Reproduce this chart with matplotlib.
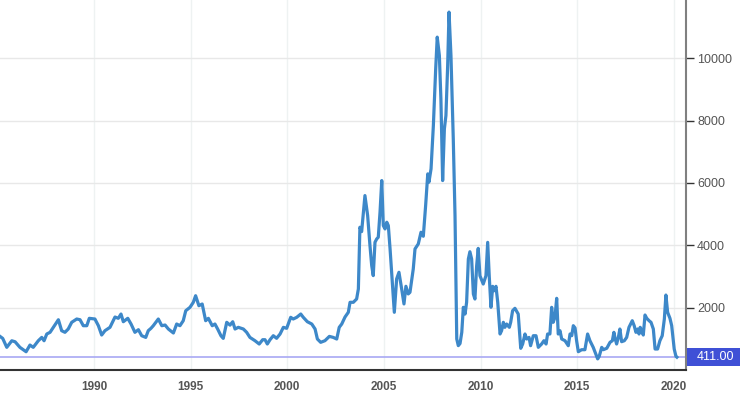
import matplotlib
matplotlib.use('Agg')
import matplotlib.pyplot as plt
from matplotlib.patches import Rectangle

# Baltic Dry Index, decimal years
years = [
    1985.14, 1985.28, 1985.49, 1985.75, 1985.92, 1986.17, 1986.49, 1986.69, 1986.86, 1987.12,
    1987.30, 1987.42, 1987.56, 1987.73, 1987.90, 1988.16, 1988.33, 1988.50, 1988.67, 1988.85,
    1989.11, 1989.28, 1989.45, 1989.63, 1989.76, 1990.05, 1990.23, 1990.40, 1990.57, 1990.83,
    1991.09, 1991.26, 1991.40, 1991.52, 1991.75, 1991.92, 1992.12, 1992.30, 1992.47, 1992.68,
    1992.81, 1992.95, 1993.07, 1993.33, 1993.51, 1993.68, 1993.85, 1994.11, 1994.28, 1994.45,
    1994.62, 1994.75, 1994.97, 1995.14, 1995.26, 1995.43, 1995.60, 1995.78, 1995.92, 1996.12,
    1996.26, 1996.40, 1996.57, 1996.69, 1996.87, 1997.04, 1997.18, 1997.30, 1997.47, 1997.73,
    1997.90, 1998.07, 1998.33, 1998.55, 1998.73, 1998.85, 1998.97, 1999.11, 1999.28, 1999.45,
    1999.63, 1999.80, 1999.97, 2000.18, 2000.31, 2000.49, 2000.70, 2000.83, 2001.04, 2001.27,
    2001.44, 2001.56, 2001.73, 2001.95, 2002.18, 2002.38, 2002.56, 2002.69, 2002.82, 2002.99,
    2003.16, 2003.25, 2003.42, 2003.59, 2003.68, 2003.76, 2003.85, 2004.02, 2004.16, 2004.28,
    2004.37, 2004.45, 2004.54, 2004.63, 2004.71, 2004.80, 2004.89, 2004.97, 2005.06, 2005.15,
    2005.23, 2005.32, 2005.40, 2005.54, 2005.66, 2005.78, 2005.92, 2006.04, 2006.14, 2006.26,
    2006.35, 2006.52, 2006.61, 2006.78, 2006.92, 2007.04, 2007.16, 2007.27, 2007.33, 2007.44,
    2007.56, 2007.68, 2007.76, 2007.87, 2007.95, 2008.04, 2008.13, 2008.21, 2008.30, 2008.37,
    2008.47, 2008.59, 2008.68, 2008.77, 2008.85, 2008.94, 2009.03, 2009.11, 2009.20, 2009.28,
    2009.37, 2009.45, 2009.54, 2009.63, 2009.71, 2009.80, 2009.88, 2009.97, 2010.14, 2010.28,
    2010.37, 2010.45, 2010.54, 2010.63, 2010.71, 2010.80, 2010.89, 2011.01, 2011.09, 2011.18,
    2011.26, 2011.35, 2011.49, 2011.56, 2011.66, 2011.78, 2011.95, 2012.08, 2012.18, 2012.30,
    2012.39, 2012.51, 2012.59, 2012.73, 2012.87, 2012.99, 2013.16, 2013.28, 2013.39, 2013.47,
    2013.59, 2013.68, 2013.76, 2013.85, 2013.94, 2014.02, 2014.11, 2014.20, 2014.37, 2014.54,
    2014.63, 2014.72, 2014.80, 2014.89, 2014.97, 2015.06, 2015.23, 2015.40, 2015.54, 2015.66,
    2015.83, 2015.96, 2016.06, 2016.14, 2016.27, 2016.35, 2016.53, 2016.70, 2016.82, 2016.90,
    2016.96, 2017.04, 2017.13, 2017.21, 2017.30, 2017.44, 2017.56, 2017.68, 2017.85, 2017.95,
    2018.04, 2018.13, 2018.20, 2018.26, 2018.34, 2018.42, 2018.51, 2018.60, 2018.72, 2018.82,
    2018.94, 2019.03, 2019.16, 2019.28, 2019.40, 2019.51, 2019.59, 2019.68, 2019.80, 2019.89,
    2020.02, 2020.11, 2020.16,
]
bdi = [
    1078, 1014, 727, 938, 906, 727, 586, 800, 727, 938,
    1046, 938, 1155, 1209, 1369, 1613, 1261, 1209, 1315, 1530,
    1636, 1613, 1421, 1421, 1658, 1636, 1421, 1122, 1261, 1369,
    1700, 1658, 1796, 1549, 1658, 1475, 1209, 1293, 1100, 1046,
    1261, 1337, 1421, 1636, 1421, 1443, 1315, 1187, 1475, 1421,
    1581, 1902, 2011, 2171, 2383, 2062, 2117, 1581, 1658, 1421,
    1475, 1315, 1100, 1014, 1530, 1440, 1549, 1315, 1369, 1315,
    1209, 1046, 940, 834, 972, 972, 834, 972, 1100, 1017,
    1155, 1369, 1337, 1690, 1636, 1690, 1796, 1690, 1549, 1475,
    1315, 994, 888, 940, 1078, 1046, 994, 1369, 1475, 1700,
    1851, 2172, 2172, 2279, 2600, 4580, 4440, 5596, 4954, 3991,
    3349, 3028, 4098, 4205, 4259, 5061, 6078, 4633, 4526, 4740,
    4633, 3884, 3135, 1851, 2921, 3135, 2600, 2119, 2686, 2440,
    2493, 3242, 3884, 4045, 4419, 4291, 5275, 6292, 6024, 6452,
    7843, 9662, 10679, 10090, 8699, 6078, 7736, 8164, 9769, 11481,
    10090, 7415, 4954, 995, 781, 850, 1209, 2011, 1796, 2171,
    3560, 3794, 3560, 2437, 2277, 3345, 3902, 3024, 2758, 3024,
    4095, 3024, 2011, 2684, 2543, 2684, 2171, 1155, 1261, 1530,
    1369, 1475, 1369, 1530, 1902, 1979, 1796, 696, 834, 1155,
    994, 1046, 780, 1100, 1100, 727, 834, 940, 834, 1155,
    1155, 2011, 1530, 1690, 2300, 1155, 1261, 994, 940, 780,
    1155, 1100, 1421, 1350, 940, 587, 651, 651, 1155, 940,
    727, 513, 356, 439, 727, 651, 696, 888, 940, 1209,
    1017, 834, 1046, 1315, 908, 940, 1046, 1369, 1581, 1421,
    1209, 1315, 1155, 1369, 1261, 1122, 1764, 1658, 1581, 1530,
    1315, 673, 673, 940, 1100, 1636, 2405, 1850, 1658, 1421,
    673, 439, 411,
]
x_ticks = [1990, 1995, 2000, 2005, 2010, 2015, 2020]
y_ticks = [2000, 4000, 6000, 8000, 10000]

line_color = '#3d88c9'
label_color = '#555555'

plt.rcParams['font.family'] = ['Liberation Sans', 'DejaVu Sans']

fig = plt.figure(figsize=(7.4, 3.95), dpi=100)
ax = fig.add_axes([0.0, 25 / 395, 686 / 740, 370 / 395])

ax.plot(years, bdi, color=line_color, linewidth=2.3, solid_joinstyle='round', zorder=3)

# last value marker line and label
last = bdi[-1]
ax.axhline(last, color='#a8a8f4', linewidth=1.2, zorder=2)
ax.add_patch(Rectangle((1.002, last - 290), 0.09, 580, transform=ax.get_yaxis_transform(),
                       facecolor='#3f50d6', edgecolor='none', clip_on=False, zorder=5))
ax.text(1.016, last, f'{last:.2f}', transform=ax.get_yaxis_transform(), ha='left', va='center',
        color='white', fontsize=9, zorder=6)

ax.set_xlim(1985.14, 2020.63)
ax.set_ylim(0, 11870)

ax.set_xticks(x_ticks)
ax.set_xticklabels([str(y) for y in x_ticks], fontsize=8.5, fontweight='bold', color=label_color)
ax.tick_params(axis='x', length=0, pad=8)

ax.yaxis.tick_right()
ax.set_yticks(y_ticks)
ax.set_yticklabels([str(v) for v in y_ticks], fontsize=9, color=label_color)
ax.tick_params(axis='y', length=6, width=1, color='#333333', pad=2)

ax.grid(axis='y', color='#e8e8e8', linewidth=1)
ax.grid(axis='x', color='#eef2f2', linewidth=1)
ax.set_axisbelow(True)

for side in ['top', 'left']:
    ax.spines[side].set_visible(False)
ax.spines['right'].set_color('#808080')
ax.spines['right'].set_linewidth(1.5)
ax.spines['bottom'].set_color('#333333')
ax.spines['bottom'].set_linewidth(1.5)

fig.savefig('out.png', dpi=100)
